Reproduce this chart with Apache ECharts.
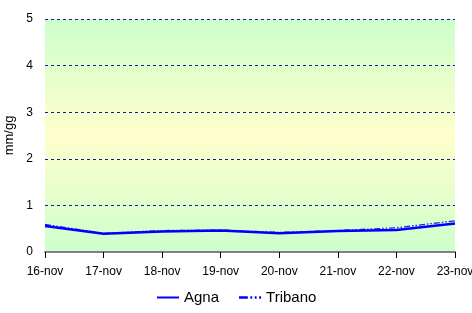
<!DOCTYPE html>
<html>
<head>
<meta charset="utf-8">
<script src="https://cdn.jsdelivr.net/npm/echarts@6/dist/echarts.min.js"></script>
<style>
html, body { margin: 0; padding: 0; background: #fff; }
#main { width: 472px; height: 313px; }
</style>
</head>
<body>
<div id="main"></div>
<script>
var days = ['16-nov', '17-nov', '18-nov', '19-nov', '20-nov', '21-nov', '22-nov', '23-nov'];
var agna = [0.56, 0.39, 0.44, 0.46, 0.40, 0.45, 0.47, 0.61];
var tribano = [0.59, 0.40, 0.46, 0.47, 0.42, 0.46, 0.52, 0.67];

var chartDom = document.getElementById('main');
var myChart = echarts.init(chartDom);
var option;

option = {
    animation: false,
    textStyle: { fontFamily: 'Liberation Sans, Arial, sans-serif' },
    legend: {
        bottom: 3,
        left: 152,
        itemWidth: 22,
        itemHeight: 10,
        itemGap: 20,
        textStyle: { fontSize: 15, color: '#000' },
        data: [
            { name: 'Agna', icon: 'path://M0,8 L22,8 L22,10 L0,10 Z' },
            { name: 'Tribano', icon: 'path://M0,8 L7,8 L7,10 L0,10 Z M9,8 L10.5,8 L10.5,10 L9,10 Z M12.5,8 L14,8 L14,10 L12.5,10 Z M16,8 L17.5,8 L17.5,10 L16,10 Z' }
        ]
    },
    grid: {
        left: 45,
        right: 17,
        top: 19,
        bottom: 61,
        outerBoundsMode: 'none',
        containLabel: false,
        show: true,
        borderWidth: 0,
        backgroundColor: {
            type: 'linear', x: 0, y: 0, x2: 0, y2: 1,
            colorStops: [
                { offset: 0, color: '#ccffcc' },
                { offset: 0.5, color: '#ffffcc' },
                { offset: 1, color: '#ccffcc' }
            ]
        }
    },
    xAxis: {
        type: 'category',
        data: days,
        boundaryGap: false,
        axisLine: { lineStyle: { color: '#808080', width: 2 } },
        axisTick: { length: 6, lineStyle: { color: '#000' } },
        axisLabel: { color: '#000', fontSize: 12, margin: 14, showMaxLabel: true, showMinLabel: true, hideOverlap: false }
    },
    yAxis: {
        type: 'value',
        min: 0,
        max: 5,
        interval: 1,
        name: 'mm/gg',
        nameLocation: 'middle',
        nameGap: 26,
        nameTextStyle: { color: '#000', fontSize: 13 },
        axisLine: { show: false },
        axisTick: { show: false },
        axisLabel: { color: '#000', fontSize: 12, margin: 12 },
        splitLine: { lineStyle: { color: '#1a1a99', type: [3, 3], width: 1 } }
    },
    series: [
        {
            name: 'Agna',
            type: 'line',
            data: agna,
            symbol: 'none',
            itemStyle: { color: '#0000ff' },
            lineStyle: { color: '#0000ff', width: 2.5 },
            z: 3
        },
        {
            name: 'Tribano',
            type: 'line',
            data: tribano,
            symbol: 'none',
            itemStyle: { color: '#0000ff' },
            lineStyle: { color: '#1a1aff', width: 1.3, type: [6, 2, 1.5, 2, 1.5, 2] },
            z: 2
        }
    ]
};

option && myChart.setOption(option);
</script>
</body>
</html>
